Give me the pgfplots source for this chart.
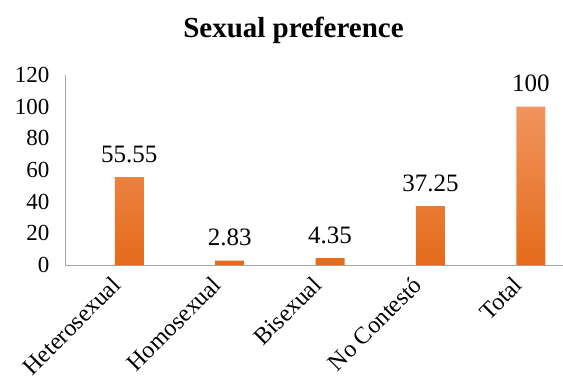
\documentclass[border=0pt]{standalone}
\usepackage{pgfplots}
\pgfplotsset{compat=1.18}
\usepackage{fontspec}
\setmainfont{Liberation Serif}

\definecolor{barTop}{RGB}{241,148,94}
\definecolor{barMid}{RGB}{244,129,42}
\definecolor{barBot}{RGB}{228,107,26}
\definecolor{axisGray}{RGB}{166,166,166}

\begin{document}
\begin{tikzpicture}
\begin{axis}[
  at={(0,0)}, anchor=south west,
  scale only axis,
  width=498pt, height=190pt,
  ymin=0, ymax=120,
  ytick={0,20,...,120},
  xmin=-0.64, xmax=4.32,
  xtick={0,1,2,3,4},
  xticklabels={Heterosexual,Homosexual,Bisexual,No Contestó,Total},
  axis x line*=bottom,
  axis y line*=left,
  axis line style={axisGray, line width=0.9pt},
  major tick length=0pt,
  /pgf/number format/assume math mode=true,
  yticklabel style={font=\fontsize{23}{25}\selectfont, xshift=-12pt},
  xticklabel style={font=\fontsize{24}{26}\selectfont, xshift=-19pt, yshift=-5pt, rotate=45, anchor=north east},
  ybar, bar width=29pt,
  point meta=explicit symbolic,
  nodes near coords,
  every node near coord/.append style={font=\fontsize{25}{27}\selectfont, anchor=base, yshift=15pt, inner sep=0pt},
  clip=false,
]
\addplot[draw=none, top color=barTop, middle color=barMid, bottom color=barBot] coordinates {
  (0,55.55) [55.55]
  (1,2.83)  [2.83]
  (2,4.35)  [4.35]
  (3,37.25) [37.25]
  (4,100)   [100]
};
\end{axis}
\node[font=\bfseries\fontsize{29}{32}\selectfont, anchor=base] at (228.5pt,228pt) {Sexual preference};
\pgfresetboundingbox
\path[use as bounding box] (-65pt,-116pt) rectangle (498pt,265pt);
\end{tikzpicture}
\end{document}
